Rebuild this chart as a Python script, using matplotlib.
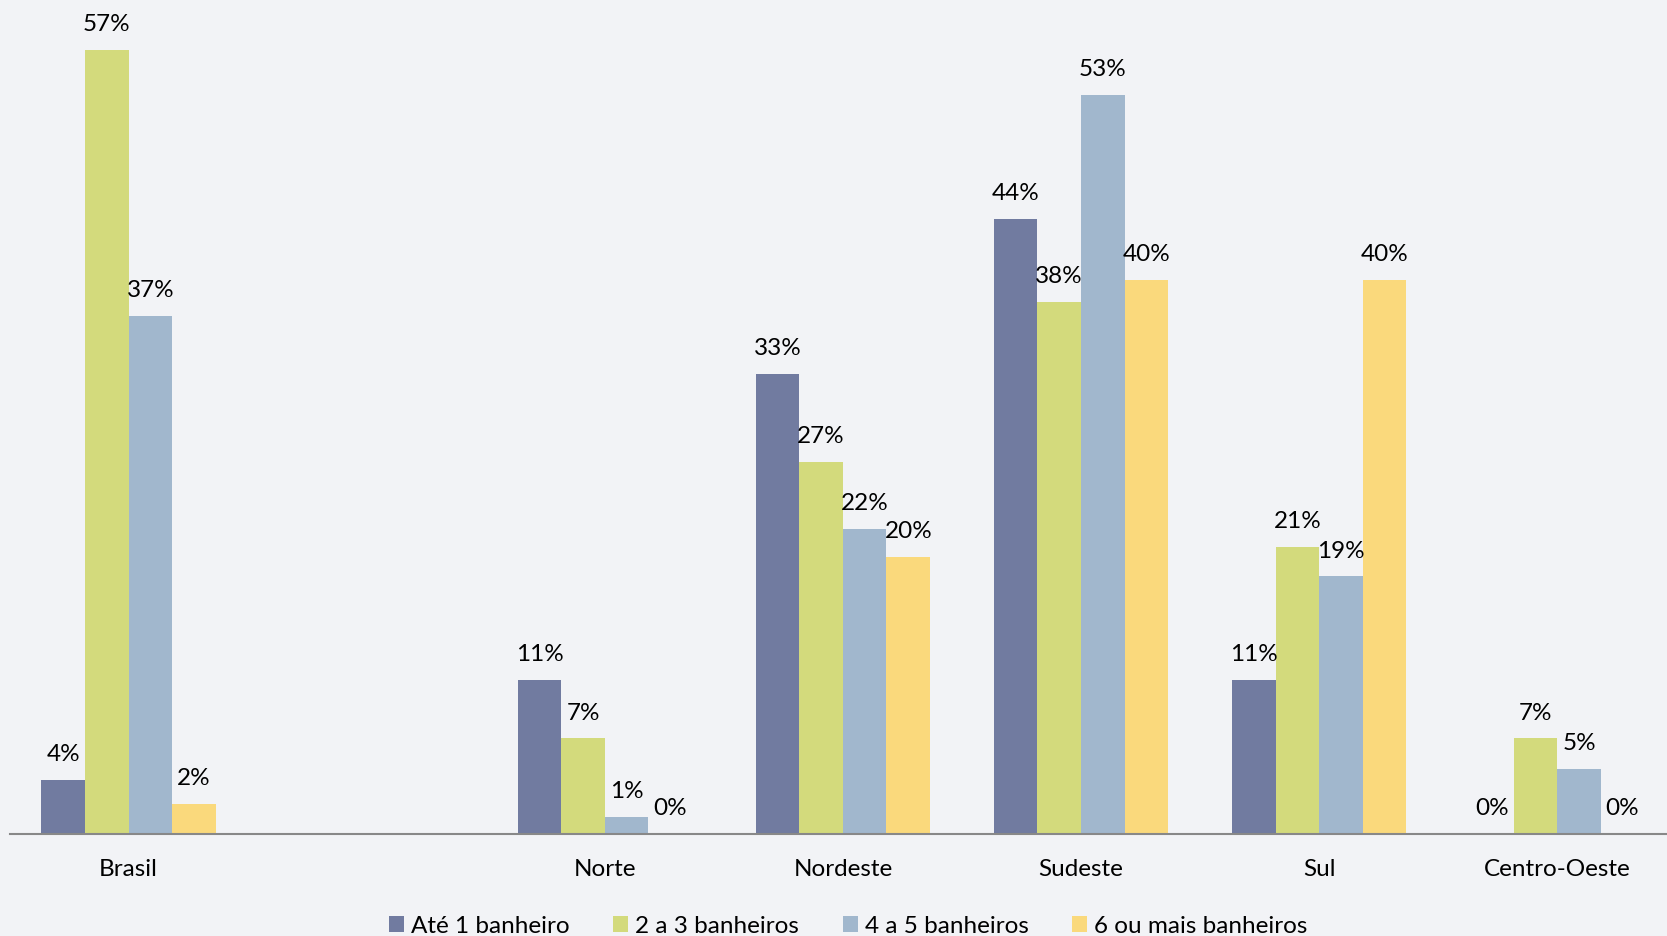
import numpy as np
import matplotlib
matplotlib.use("Agg")
import matplotlib.pyplot as plt

plt.rcParams['font.family'] = ['Lato', 'DejaVu Sans']

categories = ["Brasil", "", "Norte", "Nordeste", "Sudeste", "Sul", "Centro-Oeste"]
series_names = ["Até 1 banheiro", "2 a 3 banheiros", "4 a 5 banheiros", "6 ou mais banheiros"]
ate_1 = [3.9, np.nan, 11.1, 33.2, 44.4, 11.1, 0.0]
de_2_a_3 = [56.6, np.nan, 6.9, 26.9, 38.4, 20.7, 6.9]
de_4_a_5 = [37.4, np.nan, 1.2, 22.0, 53.4, 18.6, 4.7]
seis_ou_mais = [2.2, np.nan, 0.0, 20.0, 40.0, 40.0, 0.0]
colors = ["#717ba0", "#d3da7c", "#a1b7cd", "#fad97c"]

series = [ate_1, de_2_a_3, de_4_a_5, seis_ou_mais]

W, H = 1667, 937
fig = plt.figure(figsize=(W / 100, H / 100), dpi=100)
fig.patch.set_facecolor("#f2f3f6")

base = 835
ax = fig.add_axes([9.55 / W, 1 - base / H, 1666.7 / W, base / H])
ax.set_facecolor("none")
x = np.arange(len(categories))
bw = 0.183
fs = 17.5

for i, (vals, name, col) in enumerate(zip(series, series_names, colors)):
    pos = x + (i - 1.5) * bw
    v = np.array(vals, dtype=float)
    ax.bar(pos, v, width=bw, color=col, label=name, edgecolor="none", zorder=2)
    for p, val in zip(pos, v):
        if np.isnan(val):
            continue
        ax.annotate(f"{val:.0f}%", xy=(p, val), xytext=(0, 19), textcoords="offset points",
                    ha="center", va="center", fontsize=fs, color="#000000", zorder=3)

ax.set_xlim(-0.5, len(categories) - 0.5)
ax.set_ylim(0, 60.3)
ax.set_yticks([])
ax.set_xticks(x)
ax.set_xticklabels(categories, fontsize=fs, color="#000000")
ax.tick_params(axis="x", length=0, pad=17.5)
for s in ["top", "right", "left"]:
    ax.spines[s].set_visible(False)
ax.spines["bottom"].set_color("#888888")
ax.spines["bottom"].set_linewidth(1.5)
ax.spines["bottom"].set_zorder(4)

handles, labels = ax.get_legend_handles_labels()
fig.legend(handles, labels, loc="center", bbox_to_anchor=(0.5089, 1 - 927 / H), ncol=4,
           frameon=False, fontsize=fs, handlelength=0.62, handleheight=0.62,
           handletextpad=0.3, columnspacing=1.78, borderaxespad=0, borderpad=0)

fig.savefig("out.png", dpi=100, facecolor=fig.get_facecolor())
